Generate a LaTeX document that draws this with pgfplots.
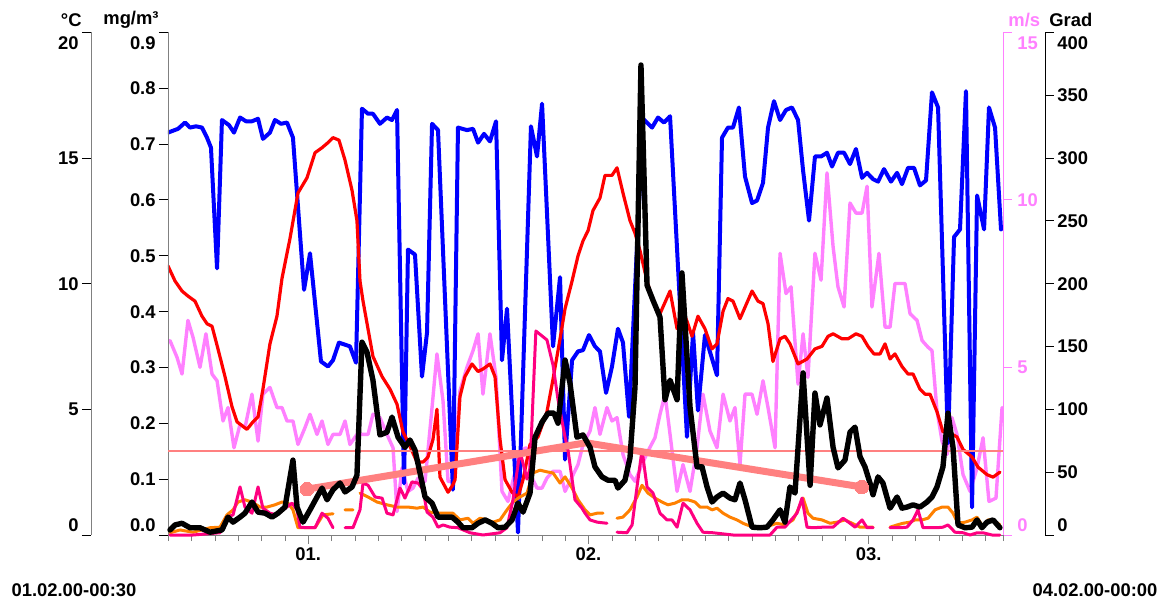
\documentclass[border=0pt]{standalone}
\usepackage{fontspec}
\setmainfont{Liberation Sans}
\usepackage{pgfplots}
\pgfplotsset{compat=1.18}
\definecolor{cblue}{RGB}{0,0,255}
\definecolor{cred}{RGB}{255,0,0}
\definecolor{cpink}{RGB}{255,128,255}
\definecolor{corange}{RGB}{255,128,0}
\definecolor{cmag}{RGB}{255,0,128}
\definecolor{csalmon}{RGB}{255,128,128}
\definecolor{caxis}{RGB}{128,128,128}
\newcommand{\lf}{\bfseries\fontsize{9.2}{11}\selectfont}
\pgfplotsset{
  base/.style={scale only axis, width=417.5pt, height=251.5pt, xmin=0, xmax=71.5, anchor=south west},
  ylab left/.style={tick align=outside, major tick length=4.5pt,
    yticklabel style={anchor=base east, inner sep=0pt, xshift=-1.5pt, yshift=-3.3pt, font=\lf}},
  ylab right/.style={tick align=outside, major tick length=4.5pt,
    yticklabel style={anchor=base west, inner sep=0pt, xshift=1.5pt, yshift=-3.3pt, font=\lf}},
  dl/.style={line join=round, line cap=round},
}
\begin{document}
\begin{tikzpicture}
\path[use as bounding box] (-84pt,-32.5pt) rectangle (500pt,267.5pt);
% ---------------- wind speed m/s (pink)
\begin{axis}[base, ymin=0, ymax=15, hide x axis, axis y line*=right,
  y axis line style={draw=cpink,-}, ytick style={draw=cpink},
  ytick={0,5,10,15}, yticklabels={\raisebox{5pt}{0},5,10,\raisebox{-5.5pt}{15}},
  ylab right, yticklabel style={text=cpink, xshift=1pt}]
\addplot[draw=cpink, line width=1.7pt, dl] coordinates {
(0.17,5.8)(0.77,5.3)(1.2,4.8)(1.71,6.4)(2.14,5.9)(2.74,5.0)(3.25,6.0)(3.77,4.8)(4.2,4.6)(4.71,3.4)(5.14,3.8)(5.65,2.6)(6.17,3.3)(6.59,3.2)(7.19,4.2)(7.71,2.8)(8.13,4.2)(8.73,4.4)(9.33,3.8)(9.76,3.8)(10.19,3.4)(10.7,3.4)(11.13,2.7)(11.73,3.2)(12.16,3.6)(12.76,3.0)(13.19,3.4)(13.7,2.7)(14.13,3.0)(14.73,3.0)(15.16,3.4)(15.58,2.7)(16.18,3.0)(16.61,3.0)(17.13,3.0)(17.55,3.6)(18.15,3.5)(18.75,3.0)(19.27,2.6)(19.61,0.7)(20.04,2.0)(20.55,1.3)(20.98,1.4)(21.41,1.7)(22.01,1.6)(22.61,3.8)(23.03,5.4)(23.55,4.0)(23.98,1.6)(24.4,1.6)(25.0,4.3)(25.6,5.0)(26.12,5.5)(26.55,6.0)(26.97,4.2)(27.57,6.0)(28.09,4.7)(28.6,1.3)(29.11,1.0)(30.14,2.5)(30.66,2.6)(31.17,1.7)(31.6,1.4)(32.03,1.4)(32.45,1.7)(32.97,1.9)(33.57,1.9)(34.0,1.3)(35.11,2.1)(35.54,2.7)(36.14,3.1)(36.56,3.8)(36.99,3.0)(37.59,3.8)(38.02,3.4)(38.45,3.5)(38.96,2.4)(39.56,1.8)(39.99,1.6)(40.59,2.1)(41.1,2.5)(41.7,2.9)(42.13,3.6)(42.56,4.2)(42.99,3.0)(43.59,1.3)(44.1,2.1)(44.7,1.3)(45.3,2.6)(45.81,4.2)(46.41,3.1)(47.01,2.6)(47.53,4.2)(48.12,3.4)(48.55,3.8)(48.98,2.1)(49.41,4.2)(50.01,4.2)(50.44,3.6)(50.95,4.6)(51.38,3.8)(51.98,2.6)(52.41,8.4)(52.92,7.2)(53.35,7.4)(53.95,4.5)(54.38,6.0)(54.8,4.7)(55.4,8.4)(55.92,7.6)(56.43,10.8)(56.95,8.6)(57.37,7.4)(57.89,6.8)(58.4,9.9)(58.91,9.6)(59.43,9.6)(59.86,10.4)(60.28,6.8)(60.88,8.4)(61.4,6.2)(61.83,6.2)(62.25,7.5)(63.11,7.5)(63.54,6.6)(64.14,6.4)(64.57,5.8)(65.08,5.6)(65.42,5.5)(65.85,3.7)(66.28,2.8)(66.71,2.4)(67.13,3.5)(67.56,3.0)(68.08,1.8)(68.68,1.3)(69.28,2.0)(69.79,2.9)(70.3,1.0)(70.9,1.1)(71.42,3.8)};
\end{axis}
% ---------------- wind direction Grad (blue), data only
\begin{axis}[base, ymin=0, ymax=400, hide axis]
\addplot[draw=cblue, line width=2pt, dl] coordinates {
(0,320)(0.86,323)(1.46,328)(1.88,324)(2.4,325)(2.91,324)(3.34,316)(3.68,308)(4.2,212)(4.62,330)(5.22,326)(5.65,320)(6.17,332)(6.68,329)(7.19,329)(7.71,331)(8.13,315)(8.73,320)(9.16,330)(9.68,327)(10.19,328)(10.7,316)(11.65,195)(12.16,224)(13.1,138)(13.7,134)(14.13,139)(14.64,153)(15.58,150)(16.1,137)(16.61,339)(17.13,335)(17.55,335)(18.15,327)(18.75,332)(19.18,330)(19.61,338)(20.21,41)(20.55,227)(21.15,223)(21.75,126)(22.18,161)(22.61,327)(23.12,322)(24.4,36)(24.83,324)(25.6,322)(26.12,323)(26.55,312)(27.06,319)(27.57,313)(28.09,329)(28.6,139)(29.03,180)(29.97,2)(31.08,325)(31.6,301)(32.03,343)(32.97,150)(33.57,205)(34.0,60)(34.6,139)(35.11,146)(35.54,147)(36.05,159)(36.56,150)(36.99,146)(37.51,113)(38.02,134)(38.53,164)(38.96,153)(39.48,94)(40.67,331)(41.45,324)(41.96,332)(42.47,328)(42.99,333)(44.44,78)(44.96,161)(45.38,99)(45.98,159)(47.01,127)(47.44,316)(47.95,324)(48.38,324)(48.89,340)(49.41,285)(50.01,264)(50.44,266)(50.95,280)(51.38,324)(51.89,345)(52.41,330)(52.92,338)(53.43,340)(53.95,330)(54.38,290)(54.89,250)(55.4,301)(55.92,301)(56.43,304)(56.86,293)(57.37,304)(57.89,304)(58.4,295)(58.91,307)(59.43,284)(59.86,288)(60.37,283)(60.8,281)(61.31,291)(61.91,281)(62.43,288)(62.85,279)(63.37,292)(63.88,292)(64.39,278)(64.91,282)(65.42,352)(65.94,340)(66.79,73)(67.31,237)(67.82,243)(68.33,353)(68.85,22)(69.28,270)(69.88,243)(70.3,340)(70.82,324)(71.33,243)};
\end{axis}
% ---------------- temperature degC (red), data only
\begin{axis}[base, ymin=0, ymax=20, hide axis]
\addplot[draw=cred, line width=1.6pt, dl] coordinates {
(0,10.7)(0.6,10.1)(1.2,9.7)(1.71,9.5)(2.31,9.3)(2.91,8.7)(3.34,8.4)(3.77,8.3)(4.28,7.4)(4.88,6.3)(5.48,5.1)(5.91,4.5)(6.76,4.2)(7.28,4.5)(7.71,4.7)(8.13,5.8)(8.73,7.6)(9.33,8.7)(9.76,10.2)(10.45,11.8)(11.13,13.6)(11.9,14.2)(12.59,15.2)(13.19,15.4)(13.7,15.6)(14.13,15.8)(14.64,15.7)(15.16,14.9)(15.76,13.7)(16.18,12.5)(16.44,10.1)(16.7,9.3)(17.55,7.1)(18.33,6.3)(19.01,5.8)(19.61,5.2)(20.12,4.1)(20.55,3.7)(21.32,2.9)(21.84,2.9)(22.26,3.1)(22.69,3.8)(23.03,5.0)(23.29,2.3)(23.98,1.7)(24.4,2.0)(24.58,2.2)(25.0,5.5)(25.43,6.3)(26.03,6.8)(26.55,6.5)(26.97,6.6)(27.57,6.8)(28.0,6.3)(28.43,3.8)(28.86,2.2)(29.46,1.7)(29.97,1.5)(30.4,2.2)(31.0,3.6)(31.68,3.9)(32.45,4.9)(32.97,6.2)(33.57,7.8)(34.0,9.0)(34.6,10.1)(35.11,11.1)(35.54,11.7)(35.97,12.1)(36.39,12.9)(36.99,13.4)(37.42,14.3)(38.02,14.3)(38.45,14.6)(38.96,13.6)(39.56,12.5)(39.99,12.0)(40.42,11.3)(41.02,10.1)(41.53,9.3)(42.13,8.8)(42.99,9.7)(43.59,8.2)(44.1,8.9)(44.44,8.5)(44.87,7.9)(45.38,8.7)(45.98,8.2)(46.58,7.4)(47.01,7.6)(47.53,8.9)(47.95,9.4)(48.38,9.3)(48.98,8.6)(50.01,9.7)(50.52,9.3)(50.95,9.2)(51.38,8.4)(51.8,6.9)(52.41,7.8)(52.83,7.9)(53.26,7.6)(53.95,6.8)(54.72,7.0)(55.4,7.4)(56.0,7.5)(56.52,7.9)(56.95,8.0)(57.72,7.8)(58.23,7.8)(58.91,8.0)(59.43,7.9)(59.94,7.5)(60.45,7.2)(60.97,7.2)(61.4,7.6)(61.83,7.0)(62.25,7.2)(62.85,6.7)(63.37,6.4)(63.8,6.4)(64.39,5.8)(64.82,5.6)(65.25,5.6)(65.85,4.9)(66.36,4.1)(66.79,4.1)(67.56,3.9)(68.08,3.4)(68.85,3.1)(69.36,2.7)(70.13,2.4)(70.65,2.3)(71.24,2.5)};
\end{axis}
% ---------------- mg/m3 main axis
\begin{axis}[base, ymin=0, ymax=0.9, clip=false, unbounded coords=jump,
  axis x line*=bottom, axis y line*=left,
  x axis line style={draw=caxis,-}, y axis line style={draw=caxis,-},
  ytick={0,0.1,0.2,0.3,0.4,0.5,0.6,0.7,0.8,0.9},
  yticklabels={\raisebox{5pt}{0.0},0.1,0.2,0.3,0.4,0.5,0.6,0.7,0.8,\raisebox{-5.5pt}{0.9}},
  ylab left, ytick style={draw=black},
  xtick={12,36,60}, xticklabels={01.,02.,03.},
  minor xtick={0,2,4,6,8,10,14,16,18,20,22,24,26,28,30,32,34,38,40,42,44,46,48,50,52,54,56,58,62,64,66,68,70,71.5},
  minor tick length=3pt, xtick style={draw=caxis},
  xticklabel style={anchor=north, inner sep=0pt, yshift=-1.5pt, font=\lf}]
\addplot[draw=csalmon, line width=0.75pt] coordinates {(0,0.15)(71.5,0.15)};
\addplot[draw=corange, line width=1.5pt, dl] coordinates {
(0.17,0.004)(1.03,0.009)(2.14,0.005)(3.6,0.013)(4.45,0.014)(5.05,0.036)(5.57,0.045)(5.99,0.059)(6.59,0.063)(7.19,0.059)(7.88,0.050)(8.48,0.050)(9.16,0.054)(9.76,0.059)(10.28,0.057)(10.7,0.045)(11.13,0.013)(11.9,0.013)(12.59,0.013)(13.27,0.036)(14.13,0.038)(14.6,nan)(15.16,0.045)(15.84,0.045)(16.1,nan)(16.44,0.075)(17.13,0.068)(17.9,0.059)(18.75,0.054)(19.61,0.050)(20.55,0.050)(21.32,0.048)(21.84,0.050)(22.43,0.041)(23.12,0.039)(23.89,0.039)(24.4,0.039)(25.0,0.027)(25.69,0.030)(26.12,0.021)(26.72,0.030)(27.32,0.027)(27.83,0.023)(28.43,0.027)(29.03,0.045)(29.54,0.059)(30.14,0.068)(30.74,0.075)(31.26,0.111)(31.85,0.116)(32.45,0.113)(32.97,0.111)(33.57,0.093)(34.0,0.104)(34.6,0.084)(35.11,0.063)(35.71,0.045)(36.14,0.036)(36.74,0.039)(37.25,0.039)(37.8,nan)(38.45,0.030)(38.96,0.032)(39.56,0.045)(40.16,0.068)(40.59,0.089)(41.1,0.075)(41.7,0.066)(42.3,0.059)(42.81,0.054)(43.41,0.057)(44.01,0.063)(44.53,0.063)(45.13,0.059)(45.55,0.050)(46.16,0.050)(46.58,0.045)(47.01,0.048)(47.53,0.039)(48.12,0.032)(48.72,0.027)(49.24,0.021)(49.58,0.018)(50.27,0.014)(50.95,0.013)(52.15,0.021)(52.83,0.018)(53.52,0.027)(53.95,0.045)(54.38,0.066)(54.8,0.039)(55.23,0.030)(56.0,0.027)(56.69,0.021)(57.29,0.023)(57.97,0.027)(58.57,0.021)(59.26,0.014)(59.86,0.014)(60.37,0.014)(61.1,nan)(61.83,0.014)(62.43,0.018)(62.94,0.021)(63.54,0.023)(63.97,0.027)(64.57,0.027)(65.08,0.030)(65.68,0.045)(66.28,0.050)(66.79,0.050)(67.22,0.039)(67.65,0.021)(68.25,0.023)(68.85,0.027)(69.28,0.032)(69.79,0.014)(70.22,0.027)(70.65,0.027)(71.24,0.018)};
\addplot[draw=cmag, line width=1.5pt, dl] coordinates {
(0.17,0)(2.14,0)(4.45,0.004)(5.05,0.032)(5.57,0.036)(6.17,0.086)(6.59,0.050)(7.19,0.039)(7.71,0.086)(8.13,0.048)(8.73,0.039)(9.33,0.036)(9.85,0.045)(10.62,0.057)(11.05,0.045)(11.3,0.014)(11.9,0.013)(12.59,0.013)(13.19,0.039)(13.7,0.030)(14.13,0.013)(14.6,nan)(15.16,0.013)(15.84,0.013)(16.44,0.045)(16.7,0.093)(17.13,0.089)(17.73,0.068)(18.33,0.066)(18.75,0.039)(19.27,0.036)(19.87,0.084)(20.29,0.066)(20.89,0.095)(21.41,0.093)(21.84,0.081)(22.18,0.041)(22.69,0.032)(23.12,0.014)(23.55,0.018)(24.15,0.014)(24.83,0.013)(25.86,0.004)(26.97,0)(28.43,0.004)(29.03,0.013)(29.54,0.063)(30.14,0.150)(30.74,0.100)(31.0,0.120)(31.5,0.365)(32.45,0.349)(32.97,0.304)(33.4,0.242)(34.0,0.175)(34.25,0.152)(34.85,0.063)(35.45,0.048)(35.71,0.039)(36.14,0.027)(36.74,0.023)(37.59,0.021)(37.9,nan)(38.45,0.005)(39.3,0.004)(39.74,0.018)(40.16,0.086)(40.59,0.152)(41.02,0.086)(41.53,0.075)(42.13,0.039)(42.73,0.027)(43.16,0.027)(43.59,0.014)(44.1,0.057)(44.7,0.045)(45.3,0.021)(45.81,0.005)(46.67,0.004)(48.38,0)(51.55,0)(52.15,0.014)(52.83,0.014)(53.86,0.039)(54.29,0.066)(54.72,0.014)(55.23,0.013)(56.09,0.014)(56.95,0.014)(57.8,0.030)(58.4,0.021)(58.83,0.014)(59.43,0.027)(59.86,0.013)(60.37,0.013)(61.1,nan)(61.83,0.013)(62.68,0.013)(63.28,0.014)(63.8,0.027)(64.22,0.045)(64.65,0.013)(65.25,0.013)(65.85,0.013)(66.36,0.014)(66.79,0.018)(67.39,0.005)(68.08,0.004)(68.68,0)(69.28,0.004)(69.79,0.004)(70.56,0)(71.24,0)};
\addplot[draw=csalmon, line width=3.5pt, mark=*, mark size=3.4pt, mark indices={1,3}, mark options={draw=csalmon, fill=csalmon, line width=0pt}] coordinates {(11.9,0.082)(35.8,0.165)(59.4,0.086)};
\addplot[draw=black, line width=2.7pt, dl] coordinates {
(0.17,0.009)(0.6,0.018)(1.2,0.021)(1.88,0.013)(2.74,0.013)(3.6,0.005)(4.62,0.009)(5.14,0.032)(5.57,0.023)(6.17,0.032)(6.59,0.039)(7.19,0.059)(7.71,0.041)(8.31,0.039)(8.91,0.032)(9.42,0.039)(10.02,0.050)(10.7,0.134)(11.05,0.050)(11.56,0.023)(12.16,0.045)(12.76,0.068)(13.19,0.084)(13.62,0.063)(14.13,0.081)(14.73,0.093)(15.16,0.077)(15.76,0.086)(16.18,0.107)(16.61,0.345)(17.04,0.327)(17.55,0.277)(18.15,0.179)(18.75,0.184)(19.18,0.211)(19.7,0.175)(20.29,0.157)(20.72,0.170)(21.15,0.152)(21.58,0.111)(22.01,0.068)(22.61,0.057)(23.12,0.032)(23.72,0.032)(24.32,0.032)(24.83,0.023)(25.26,0.013)(26.03,0.013)(26.55,0.021)(27.15,0.027)(27.74,0.021)(28.26,0.013)(28.86,0.014)(29.46,0.027)(29.97,0.057)(30.4,0.041)(31.0,0.075)(31.43,0.175)(32.03,0.202)(32.54,0.218)(33.05,0.218)(33.4,0.200)(34.0,0.313)(34.42,0.272)(35.02,0.175)(35.54,0.179)(36.14,0.157)(36.56,0.122)(37.16,0.104)(37.68,0.098)(38.28,0.098)(38.53,0.084)(39.13,0.098)(39.56,0.138)(39.99,0.265)(40.5,0.841)(41.02,0.447)(41.53,0.420)(42.13,0.390)(42.56,0.242)(42.99,0.277)(43.59,0.242)(44.01,0.469)(44.7,0.229)(45.3,0.122)(45.73,0.122)(46.16,0.086)(46.58,0.059)(47.01,0.068)(47.53,0.075)(48.12,0.066)(48.55,0.063)(48.98,0.093)(49.41,0.063)(50.01,0.014)(50.69,0.013)(51.29,0.014)(51.8,0.027)(52.41,0.045)(52.83,0.023)(53.26,0.086)(53.69,0.075)(54.38,0.290)(54.98,0.089)(55.4,0.254)(55.83,0.197)(56.43,0.245)(56.95,0.157)(57.37,0.120)(57.97,0.134)(58.4,0.184)(58.83,0.193)(59.26,0.140)(59.68,0.122)(60.11,0.093)(60.37,0.072)(60.8,0.104)(61.22,0.093)(61.83,0.048)(62.43,0.068)(62.85,0.048)(63.28,0.050)(63.8,0.054)(64.39,0.050)(64.99,0.059)(65.42,0.068)(65.85,0.086)(66.36,0.122)(66.79,0.218)(67.22,0.157)(67.65,0.018)(68.25,0.013)(68.85,0.014)(69.28,0.027)(69.7,0.013)(70.13,0.023)(70.65,0.027)(71.24,0.013)};
\end{axis}
% ---------------- degC tick axis (shifted left)
\begin{axis}[base, at={(-38.5pt,0pt)}, ymin=0, ymax=20, hide x axis, axis y line*=left,
  y axis line style={draw=caxis,-}, ytick style={draw=black},
  ytick={0,5,10,15,20}, yticklabels={\raisebox{5pt}{0},5,10,15,\raisebox{-5.5pt}{20}},
  ylab left]
\addplot[draw=none] coordinates {(0,0)};
\end{axis}
% ---------------- Grad tick axis (shifted right)
\begin{axis}[base, at={(21pt,0pt)}, ymin=0, ymax=400, hide x axis, axis y line*=right,
  y axis line style={draw=black,-}, ytick style={draw=black},
  ytick={0,50,100,150,200,250,300,350,400},
  yticklabels={\raisebox{5pt}{0},50,100,150,200,250,300,350,\raisebox{-5.5pt}{400}},
  ylab right]
\addplot[draw=none] coordinates {(0,0)};
\end{axis}
% ---------------- unit labels and date range
\node[anchor=east, inner sep=0pt, font=\lf] at (-43pt,257.5pt) {°C};
\node[anchor=east, inner sep=0pt, font=\lf] at (-4.5pt,257.5pt) {mg/m³};
\node[anchor=west, inner sep=0pt, font=\lf, text=cpink] at (420pt,257.5pt) {m/s};
\node[anchor=west, inner sep=0pt, font=\lf] at (440.5pt,257.5pt) {Grad};
\node[inner sep=0pt, font=\lf] at (-47pt,-27.5pt) {01.02.00-00:30};
\node[inner sep=0pt, font=\lf] at (463.5pt,-27.5pt) {04.02.00-00:00};
\end{tikzpicture}
\end{document}
